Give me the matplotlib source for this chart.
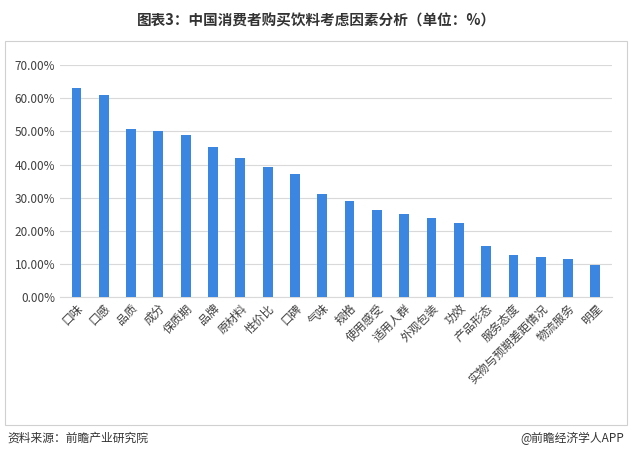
import matplotlib
matplotlib.use("Agg")
import matplotlib.pyplot as plt
from matplotlib.patches import Rectangle
from matplotlib.ticker import FuncFormatter

plt.rcParams['font.family'] = ['Noto Sans CJK SC', 'DejaVu Sans']

categories = ["口味", "口感", "品质", "成分", "保质期", "品牌", "原材料", "性价比", "口碑", "气味",
              "规格", "使用感受", "适用人群", "外观包装", "功效", "产品形态", "服务态度",
              "实物与预期差距情况", "物流服务", "明星"]
values = [63.0, 60.9, 50.7, 50.1, 49.0, 45.4, 42.1, 39.4, 37.0, 31.0,
          28.9, 26.2, 25.0, 23.8, 22.3, 15.4, 12.7, 12.1, 11.5, 9.7]

fig = plt.figure(figsize=(6.32, 4.59), dpi=100)
ax = fig.add_axes([0.095, 0.353, 0.873, 0.505])
x = range(len(categories))
ax.bar(x, values, width=0.36, color="#3b86e0", zorder=3)
ax.set_ylim(0, 70)
ax.set_xlim(-0.6, len(categories) - 0.4)
ax.set_yticks(range(0, 71, 10))
ax.yaxis.set_major_formatter(FuncFormatter(lambda v, p: f"{v:.2f}%"))
ax.grid(axis='y', color="#d9d9d9", linewidth=0.8, zorder=0)
for s in ["top", "right", "left"]:
    ax.spines[s].set_visible(False)
ax.spines["bottom"].set_color("#d9d9d9")
ax.tick_params(axis='both', length=0, labelsize=8.5, colors="#404040")
ax.set_xticks(list(x))
ax.set_xticklabels(categories, rotation=45, ha='right', rotation_mode='anchor')

fig.patches.append(Rectangle((0.008, 0.075), 0.984, 0.835, transform=fig.transFigure,
                             fill=False, edgecolor="#d0d0d0", linewidth=0.8))
fig.text(0.5, 0.955, "图表3：中国消费者购买饮料考虑因素分析（单位：%）", ha='center', va='center',
         fontsize=10.5, fontweight='bold', color="#333333")
fig.text(0.012, 0.045, "资料来源：前瞻产业研究院", ha='left', va='center', fontsize=8.5, color="#333333")
fig.text(0.988, 0.045, "@前瞻经济学人APP", ha='right', va='center', fontsize=8.5, color="#333333")

fig.savefig("out.png", dpi=100)
